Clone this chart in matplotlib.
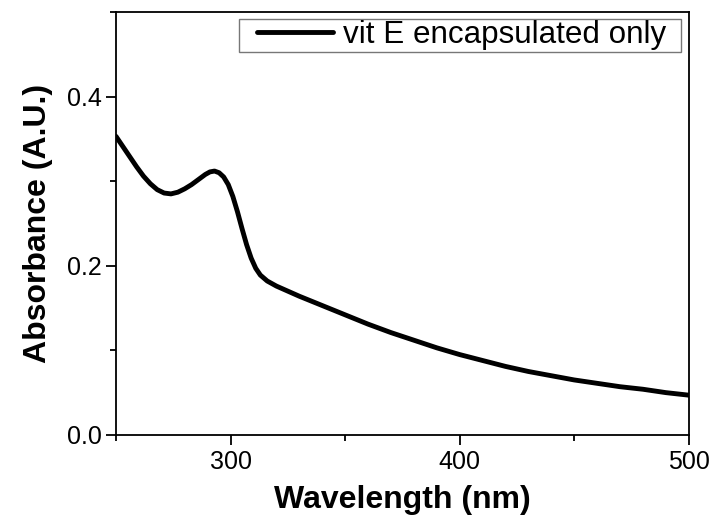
import numpy as np
import matplotlib
matplotlib.use("Agg")
import matplotlib.pyplot as plt
from matplotlib.ticker import MultipleLocator
from matplotlib.legend_handler import HandlerLine2D
from matplotlib.path import Path

plt.rcParams['font.family'] = ['Liberation Sans', 'DejaVu Sans']

# absorbance spectrum
wavelength = [250, 253, 256, 259, 262, 265, 268, 271, 274, 277, 280, 283, 286, 289,
              291, 293, 295, 297, 299, 301, 303, 305, 307, 309, 311, 313, 316, 320,
              325, 330, 340, 350, 360, 370, 380, 390, 400, 410, 420, 430, 440, 450,
              460, 470, 480, 490, 500]
absorbance = [0.353, 0.341, 0.329, 0.317, 0.306, 0.297, 0.290, 0.286, 0.285, 0.287,
              0.291, 0.296, 0.302, 0.308, 0.311, 0.312, 0.310, 0.305, 0.296, 0.282,
              0.264, 0.244, 0.225, 0.209, 0.197, 0.189, 0.182, 0.176, 0.170, 0.164,
              0.153, 0.142, 0.131, 0.121, 0.112, 0.103, 0.095, 0.088, 0.081, 0.075,
              0.070, 0.065, 0.061, 0.057, 0.054, 0.050, 0.047]
series_label = 'vit E encapsulated only'

fig = plt.figure(figsize=(7.16, 5.24), dpi=100)
ax = fig.add_axes([0.162, 0.170, 0.800, 0.807])

line, = ax.plot(wavelength, absorbance, color='black', lw=3.5,
                solid_capstyle='round', label=series_label)

ax.set_xlim(250, 500)
ax.set_ylim(0, 0.5)
ax.xaxis.set_major_locator(MultipleLocator(100))
ax.xaxis.set_minor_locator(MultipleLocator(50))
ax.yaxis.set_minor_locator(MultipleLocator(0.1))
ax.set_yticks([0.0, 0.2, 0.4])
ax.set_yticklabels(['0.0', '0.2', '0.4'])

ax.tick_params(which='both', direction='out', top=False, right=False,
               labelsize=18, width=1.3, colors='black')
ax.tick_params(which='major', length=7)
ax.tick_params(which='minor', length=4)
for s in ax.spines.values():
    s.set_linewidth(1.3)

ax.set_xlabel('Wavelength (nm)', fontsize=23, fontweight='bold', labelpad=8)
ax.set_ylabel('Absorbance (A.U.)', fontsize=23, fontweight='bold', labelpad=10)


# legend frame with some extra room after the text, like the original
def wide_box(x0, y0, width, height, mutation_size):
    x1 = x0 + width + 0.42 * mutation_size
    y1 = y0 + height
    return Path([(x0, y0), (x1, y0), (x1, y1), (x0, y1), (x0, y0)],
                [Path.MOVETO, Path.LINETO, Path.LINETO, Path.LINETO, Path.CLOSEPOLY])


leg = ax.legend(loc='upper right', bbox_to_anchor=(0.963, 0.984),
                bbox_transform=ax.transAxes, fontsize=22.6, frameon=True,
                fancybox=False, handlelength=2.95, handletextpad=0.32,
                borderpad=0.05, borderaxespad=0, edgecolor='#555555',
                handler_map={line: HandlerLine2D(xpad=0.55)})
leg.get_frame().set_linewidth(1.0)
leg.get_frame().set_boxstyle(wide_box)

fig.savefig('out.png', dpi=100)
